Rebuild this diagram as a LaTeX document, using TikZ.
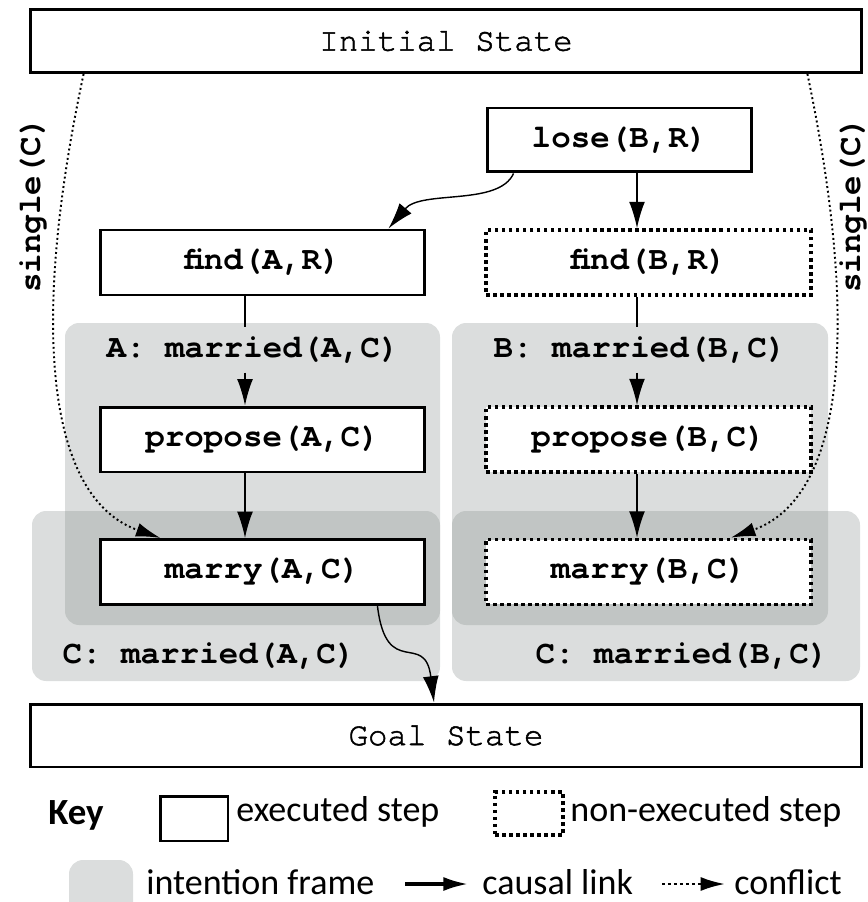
\documentclass[tikz,border=0pt]{standalone}
\usepackage{fontspec}
\setmainfont{Carlito}
\setmonofont{TeX Gyre Cursor}
\newfontfamily\statefont[FakeBold=1.6]{TeX Gyre Cursor}
\usetikzlibrary{arrows.meta,calc}

\definecolor{framegray}{RGB}{122,130,128}

\tikzset{
  >=Latex,
  stepbox/.style={rectangle, draw, line width=1.7pt, fill=white, minimum width=6.5cm, minimum height=1.3cm, inner sep=0pt, font=\ttfamily\bfseries\fontsize{18.5}{20}\selectfont},
  statebox/.style={stepbox, minimum width=16.64cm, minimum height=1.26cm, font=\statefont\fontsize{18.5}{20}\selectfont},
  skipped/.style={line width=2.1pt, dash pattern=on 2pt off 2pt},
  frame/.style={fill=framegray, fill opacity=0.27, rounded corners=8pt},
  cond/.style={font=\ttfamily\bfseries\fontsize{18.5}{20}\selectfont, inner sep=5pt},
  causal/.style={-{Latex[length=15pt,width=9pt]}, line width=0.8pt},
  conflict/.style={-{Latex[length=14pt,width=8pt]}, line width=1.1pt, dash pattern=on 1.1pt off 1.6pt},
  keylbl/.style={font=\fontsize{20.5}{22}\selectfont, inner sep=0pt, anchor=west}
}

\begin{document}
\begin{tikzpicture}[x=0.02cm, y=-0.02cm]
\useasboundingbox (0,0) rectangle (868,902);

% --- Intention frames ---
\fill[frame] (65,323) rectangle (440,625);
\fill[frame] (32,511) rectangle (440,681);
\fill[frame] (452,323) rectangle (828,625);
\fill[frame] (452,511) rectangle (860,681);

% --- States ---
\node[statebox] (init) at (446,41) {Initial State};
\node[statebox] (goal) at (446,735.5) {Goal State};

% --- Plan steps ---
\node[stepbox, minimum width=5.3cm, minimum height=1.28cm] (lose) at (619.5,140) {lose(B,R)};
\node[stepbox] (findA) at (262.5,262.5) {find(A,R)};
\node[stepbox, skipped] (findB) at (648.5,262.5) {find(B,R)};
\node[stepbox] (propA) at (262.5,439.5) {propose(A,C)};
\node[stepbox, skipped] (propB) at (648.5,439.5) {propose(B,C)};
\node[stepbox] (marryA) at (262.5,572) {marry(A,C)};
\node[stepbox, skipped] (marryB) at (648.5,572) {marry(B,C)};

% --- Frame goals ---
\node[cond] (labA) at (253,350) {A: married(A,C)};
\node[cond] (labB) at (640,350) {B: married(B,C)};
\node[cond] (labCA) at (209,656) {C: married(A,C)};
\node[cond] (labCB) at (682,656) {C: married(B,C)};

\node[cond, rotate=90] (singleL) at (33,205) {single(C)};
\node[cond, rotate=90] (singleR) at (853,205) {single(C)};

% --- Causal links ---
\coordinate (colA) at (245,0);
\coordinate (colB) at (637,0);
\draw[causal] (lose.south -| colB) -- (findB.north -| colB);
\draw[causal] ($(lose.south west)+(28,0)$) .. controls +(-15,33) and +(33,-39) .. ($(findA.north east)+(-38,0)$);
\foreach \c/\s in {A/A, B/B} {
  \draw[line width=0.8pt] (find\s.south -| col\c) -- (lab\c.north -| col\c);
  \draw[causal] (lab\c.south -| col\c) -- (prop\s.north -| col\c);
  \draw[causal] (prop\s.south -| col\c) -- (marry\s.north -| col\c);
}
\draw[causal] ($(marryA.south east)+(-49,0)$) .. controls +(9,75) and +(-9,-73) .. ($(goal.north)+(-12,0)$);

% --- Conflicts ---
\draw[conflict] ($(init.south west)+(55,0)$) .. controls +(-55,258) and +(-112,-39) .. ($(marryA.north west)+(62,0)$);
\draw[conflict] ($(init.south east)+(-56,0)$) .. controls +(54,258) and +(112,-39) .. ($(marryB.north east)+(-82,0)$);

% --- Key ---
\node[font=\bfseries\fontsize{21}{23}\selectfont] (key) at (76,815) {Key};
\node[draw, line width=1.7pt, minimum width=1.36cm, minimum height=0.9cm] (keyExec) at (194,818.5) {};
\node[keylbl] (keyExecTxt) at (236,812) {executed step};
\node[draw, skipped, minimum width=1.36cm, minimum height=0.86cm] (keySkip) at (529,813.5) {};
\node[keylbl] (keySkipTxt) at (570,812) {non-executed step};
\fill[frame] (69,860) rectangle (133,920);
\node[keylbl] (keyFrameTxt) at (146,882) {intention frame};
\node[keylbl] (keyCausalTxt) at (482,882) {causal link};
\node[keylbl] (keyConflictTxt) at (734,882) {conflict};
\coordinate (causal0) at (405,884);
\coordinate (conflict0) at (662,884);
\draw[-{Latex[length=14pt,width=8pt]}, line width=1.8pt] (causal0) -- ([xshift=-8pt]keyCausalTxt.west |- causal0);
\draw[conflict, line width=1.6pt, dash pattern=on 1.6pt off 1.8pt] (conflict0) -- ([xshift=-5pt]keyConflictTxt.west |- conflict0);

\end{tikzpicture}
\end{document}
